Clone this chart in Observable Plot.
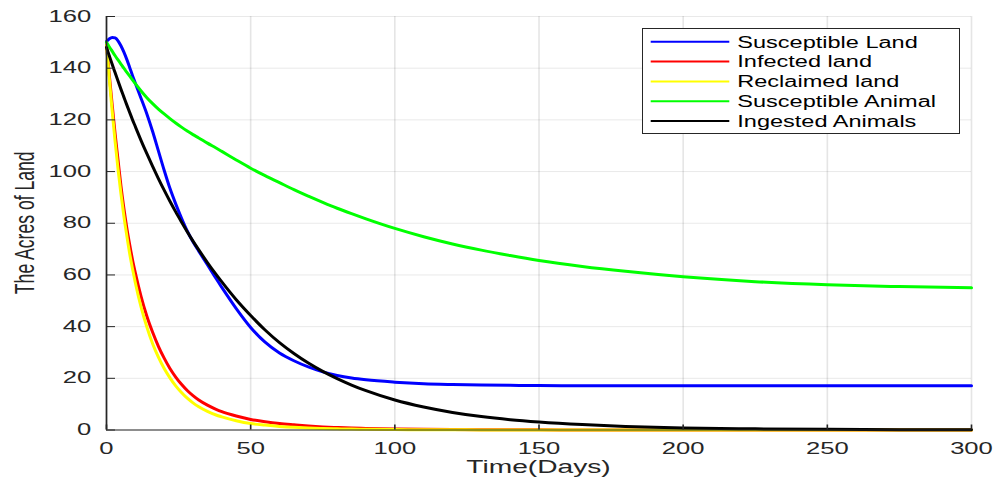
<!DOCTYPE html>
<html>
<head>
<meta charset="utf-8">
<script src="https://cdn.jsdelivr.net/npm/d3@7"></script>
<script src="https://cdn.jsdelivr.net/npm/@observablehq/plot@0.6"></script>
<style>
  html, body { margin: 0; padding: 0; background: #ffffff; }
  #chart { width: 995px; height: 482px; }
  #chart svg { display: block; }
</style>
</head>
<body>
<div id="chart"></div>
<script>
// ---- data ----
const time = [0,1,2,3,4,5,6,7,8,9,10,12,14,16,18,20,22,24,26,28,30,32,35,38,40,45,50,55,60,65,70,75,80,85,90,100,110,120,130,140,150,165,180,200,225,250,275,300];

const susceptibleLand = [150.3,151.4,151.9,151.7,150.6,148.7,146.3,143.5,140.4,137.2,134.2,
  128.3,122.3,115.5,108,100.5,93.5,87.5,82,77,72.8,69.2,
  64,58.6,55.2,
  47,39.7,34,29.8,26.8,24.4,22.5,21.1,20.1,19.4,
  18.5,17.9,17.6,17.4,17.3,17.2,
  17.15,17.1,17.1,
  17.1,17.1,17.1,17.1];

const infectedLand = [149,137,125.5,114.5,104.5,94.5,86,78.5,72,66,60.8,
  51.6,44,37.8,32.4,27.8,23.8,20.5,17.7,15.3,13.3,11.6,
  9.6,8,7.1,
  5.4,4.1,3.2,2.5,2.0,1.55,1.2,0.95,0.75,0.6,
  0.38,0.25,0.16,0.1,0.07,0.05,
  0.03,0.02,0.01,
  0,0,0,0];

const reclaimedLand = [149,135.5,123,111.5,101,91.5,83,75.5,68.5,62.5,57,
  47.5,39.8,33.4,28.2,23.8,20.2,17.1,14.5,12.3,10.5,9,
  7.2,5.8,5.1,
  3.6,2.5,1.9,1.4,1.05,0.8,0.6,0.45,0.35,0.28,
  0.17,0.1,0.06,0.04,0.03,0.02,
  0.01,0.01,0,
  0,0,0,0];

const susceptibleAnimal = [150,148.2,146.5,144.8,143.2,141.6,140,138.5,137,135.5,134,
  131.2,128.6,126.3,124.2,122.3,120.5,118.8,117.2,115.7,114.3,113,
  111,109.1,107.8,
  104.5,101.3,98.4,95.7,93,90.5,88.1,85.8,83.7,81.7,
  78,74.8,72,69.6,67.5,65.6,
  63.3,61.4,59.3,
  57.4,56.2,55.5,55.0];

const ingestedAnimals = [148,144.7,141.4,138.2,135,131.9,128.9,125.9,123,120.1,117.4,
  112,106.9,102,97.3,92.8,88.5,84.4,80.5,76.7,73.1,69.7,
  64.8,60.2,57.3,
  50.4,44.3,38.7,33.8,29.6,25.9,22.7,19.9,17.4,15.2,
  11.6,8.9,6.8,5.2,4.0,3.1,
  2.1,1.4,0.8,
  0.45,0.25,0.12,0.06];

const seriesNames = ["Susceptible Land", "Infected land", "Reclaimed land", "Susceptible Animal", "Ingested Animals"];
const seriesColors = ["#0000ff", "#ff0000", "#ffff00", "#00ff00", "#000000"];
const xTicks = [0, 50, 100, 150, 200, 250, 300];
const yTicks = [0, 20, 40, 60, 80, 100, 120, 140, 160];
const xTitle = "Time(Days)";
const yTitle = "The Acres of Land";

// ---- build long table ----
const seriesValues = [susceptibleLand, infectedLand, reclaimedLand, susceptibleAnimal, ingestedAnimals];
const rows = seriesValues.flatMap((vals, s) => vals.map((v, i) => ({t: time[i], v, series: seriesNames[s]})));

const W = 995, H = 482;
const mL = 106, mR = 24, mT = 16, mB = 52.5;
const frameW = W - mL - mR, frameH = H - mT - mB;
const axisColor = "#262626";
const FONT = "'Liberation Sans', Arial, Helvetica, sans-serif";
const STRETCH = 1.6;

const plot = Plot.plot({
  width: W, height: H,
  marginLeft: mL, marginRight: mR, marginTop: mT, marginBottom: mB,
  x: {domain: [0, 300], axis: null},
  y: {domain: [0, 160], axis: null},
  color: {domain: seriesNames, range: seriesColors},
  style: {fontFamily: FONT, fontSize: "16px", color: axisColor, background: "#ffffff", overflow: "visible"},
  marks: [
    Plot.ruleX(xTicks, {x: d => d, stroke: axisColor, strokeOpacity: 0.12, strokeWidth: 1.6}),
    Plot.ruleY(yTicks, {y: d => d, stroke: axisColor, strokeOpacity: 0.1, strokeWidth: 1}),
    Plot.lineY(rows, {x: "t", y: "v", z: "series", stroke: "series", strokeWidth: 3, curve: "monotone-x"}),
    Plot.ruleX([0], {stroke: axisColor, strokeWidth: 1.7}),
    Plot.ruleY([0], {stroke: axisColor, strokeWidth: 1.1}),
    Plot.ruleX(xTicks, {x: d => d, stroke: axisColor, strokeWidth: 1.6, insetTop: frameH - 5}),
    Plot.ruleY(yTicks, {y: d => d, stroke: axisColor, strokeWidth: 1, insetRight: frameW - 9}),
    Plot.text(xTicks, {x: d => d, text: d => String(d), frameAnchor: "bottom", lineAnchor: "middle", textAnchor: "middle", fontSize: 16, fill: axisColor}),
    Plot.text(yTicks, {y: d => d, text: d => String(d), frameAnchor: "left", dx: -15.3, lineAnchor: "middle", textAnchor: "end", fontSize: 16, fill: axisColor})
  ]
});

document.getElementById("chart").appendChild(plot);

const svg = d3.select(plot);

// the first xTicks.length text nodes are the x tick labels (mark order)
const allTexts = svg.selectAll("text").nodes();
const xTickTexts = allTexts.slice(0, xTicks.length);

// place the x tick labels below the axis (digit centre at ~448 px)
const X_LABEL_CENTER = 448.4;
const svgTop = plot.getBoundingClientRect().top;
xTickTexts.forEach(t => {
  const r = t.getBoundingClientRect();
  const cyNow = r.top + r.height / 2 - svgTop;
  const shift = X_LABEL_CENTER - cyNow;
  const tr = t.getAttribute("transform") || "";
  t.setAttribute("transform", `translate(0,${shift}) ${tr}`);
});

// horizontally stretch tick labels (the reference figure is stretched)
allTexts.forEach(function (t) {
  const bb = t.getBBox();
  const anchor = getComputedStyle(t).textAnchor;
  const ax = anchor === "end" ? bb.x + bb.width : anchor === "middle" ? bb.x + bb.width / 2 : bb.x;
  const tr = t.getAttribute("transform") || "";
  t.setAttribute("transform", `${tr} translate(${ax},0) scale(${STRETCH},1) translate(${-ax},0)`);
});

// axis titles
svg.append("text")
  .attr("transform", `translate(${mL + frameW / 2},473) scale(${STRETCH},1)`)
  .attr("text-anchor", "middle")
  .attr("font-family", FONT)
  .attr("font-size", 17.6)
  .attr("fill", axisColor)
  .text(xTitle);

svg.append("text")
  .attr("transform", `translate(33.5,${mT + frameH / 2}) rotate(-90) scale(1,${STRETCH})`)
  .attr("text-anchor", "middle")
  .attr("font-family", FONT)
  .attr("font-size", 17.6)
  .attr("fill", axisColor)
  .text(yTitle);

// legend
const lg = svg.append("g");
lg.append("rect")
  .attr("x", 642.5).attr("y", 28.5).attr("width", 317).attr("height", 105)
  .attr("fill", "#ffffff").attr("stroke", "#262626").attr("stroke-width", 1);
seriesNames.forEach((name, i) => {
  const cy = 41.8 + i * 19.8;
  lg.append("line")
    .attr("x1", 650.7).attr("x2", 729.3).attr("y1", cy).attr("y2", cy)
    .attr("stroke", seriesColors[i]).attr("stroke-width", 2);
  lg.append("text")
    .attr("transform", `translate(737.3,${cy + 5.7}) scale(1.47,1)`)
    .attr("text-anchor", "start")
    .attr("font-family", FONT)
    .attr("font-size", 16)
    .attr("fill", "#000000")
    .text(name);
});
</script>
</body>
</html>
